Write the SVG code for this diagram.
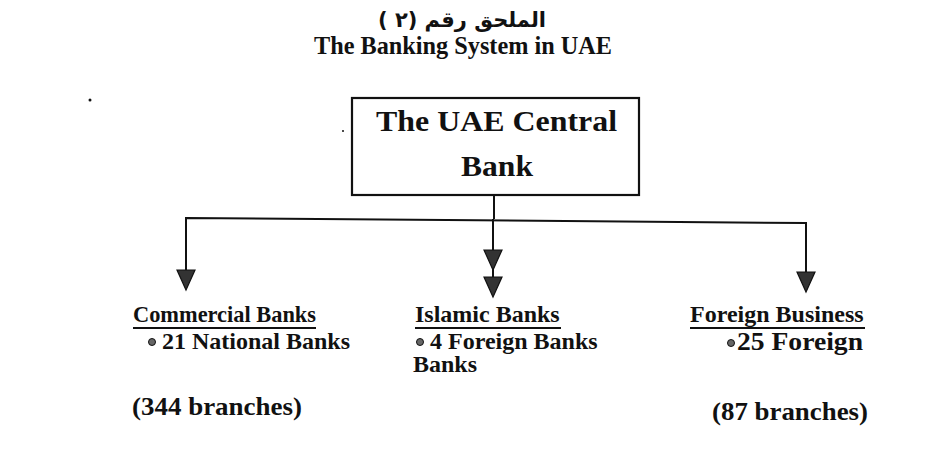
<svg xmlns="http://www.w3.org/2000/svg" width="927" height="449" viewBox="0 0 927 449">
<style>
.t{font-family:"Liberation Serif","Times New Roman",serif;font-weight:bold;font-size:24px;fill:#111}
.b{font-size:29px}
.h{font-size:25px}
.p{font-size:26px}
.ar{font-family:"DejaVu Sans",sans-serif;font-weight:bold;font-size:21px;fill:#111}
.ln{stroke:#111;stroke-width:2;fill:none}
.ah{fill:#333;stroke:#111;stroke-width:1.2}
.ul{stroke:#111;stroke-width:2}
.dot{fill:#666;stroke:#111;stroke-width:1}
</style>
<defs>
<path id="tri" d="M-9,0 L9,0 L0,20 Z"/>
</defs>
<rect width="927" height="449" fill="#fff"/>
<g id="title">
<text class="ar" x="462" y="27" text-anchor="middle" direction="rtl">الملحق رقم (٢ )</text>
<text class="t h" x="314" y="54" textLength="298" lengthAdjust="spacingAndGlyphs">The Banking System in UAE</text>
</g>
<circle cx="90" cy="100" r="1.5" fill="#111"/>
<circle cx="343" cy="131" r="1" fill="#111"/>
<g id="central-bank">
<rect x="352" y="98" width="287" height="97" fill="none" stroke="#111" stroke-width="2.2"/>
<text class="t b" x="376" y="131" textLength="241" lengthAdjust="spacingAndGlyphs">The UAE Central</text>
<text class="t b" x="461" y="176" textLength="72" lengthAdjust="spacingAndGlyphs">Bank</text>
</g>
<g id="connectors">
<path class="ln" d="M494,195 V219"/>
<path class="ln" d="M186,270 V218 L806,223 V272"/>
<path class="ln" d="M493,219 V277"/>
<use href="#tri" class="ah" x="186" y="270"/>
<use href="#tri" class="ah" x="493" y="250"/>
<use href="#tri" class="ah" x="493" y="277"/>
<use href="#tri" class="ah" x="806" y="272"/>
</g>
<g id="commercial">
<text class="t" x="133" y="322" textLength="183" lengthAdjust="spacingAndGlyphs">Commercial Banks</text>
<line class="ul" x1="133" y1="328" x2="316" y2="328"/>
<circle class="dot" cx="152" cy="342" r="3.5"/>
<text class="t" x="162" y="349">21 National Banks</text>
<text class="t p" x="132" y="415" textLength="170" lengthAdjust="spacingAndGlyphs">(344 branches)</text>
</g>
<g id="islamic">
<text class="t" x="415" y="322">Islamic Banks</text>
<line class="ul" x1="415" y1="328" x2="561" y2="328"/>
<circle class="dot" cx="420" cy="342" r="3.5"/>
<text class="t" x="430" y="349">4 Foreign Banks</text>
<text class="t" x="413" y="372">Banks</text>
</g>
<g id="foreign">
<text class="t" x="690" y="322">Foreign Business</text>
<line class="ul" x1="690" y1="328" x2="865" y2="328"/>
<circle class="dot" cx="731" cy="343" r="3.5"/>
<text class="t h" x="737" y="350" textLength="126" lengthAdjust="spacingAndGlyphs">25 Foreign</text>
<text class="t p" x="712" y="420" textLength="156" lengthAdjust="spacingAndGlyphs">(87 branches)</text>
</g>
</svg>
